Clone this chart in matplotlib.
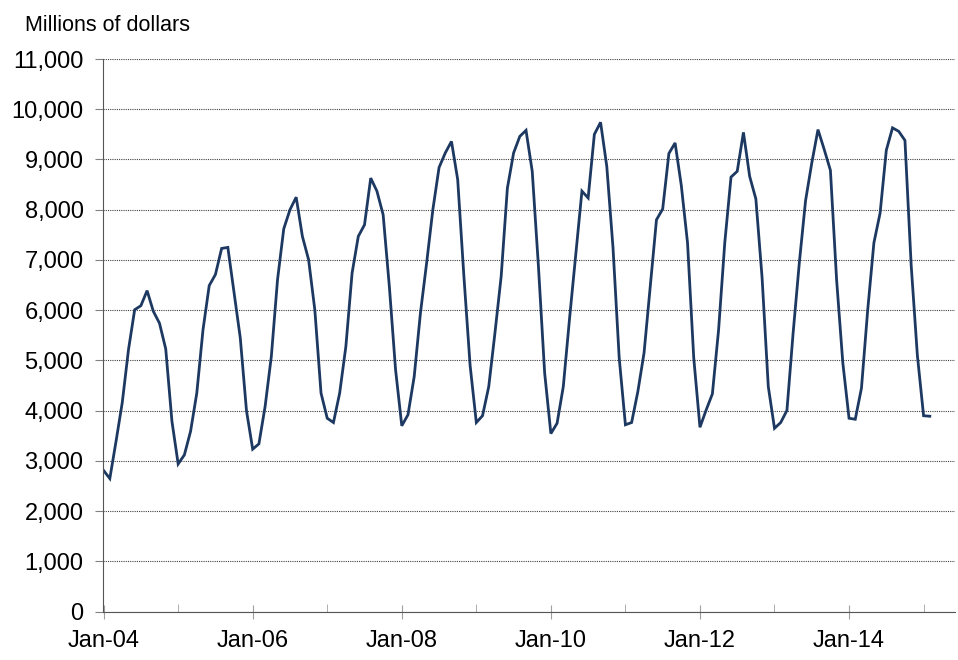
import matplotlib.pyplot as plt
from matplotlib.ticker import FuncFormatter, MultipleLocator
import numpy as np

plt.rcParams['font.family'] = ['Liberation Sans', 'DejaVu Sans']

# Monthly values, Jan-04 .. Feb-15 (millions of dollars)
y2004 = [2810, 2650, 3390, 4160, 5210, 6010, 6090, 6390, 5980, 5740, 5230, 3790]
y2005 = [2940, 3120, 3590, 4350, 5610, 6490, 6710, 7230, 7250, 6350, 5450, 4000]
y2006 = [3235, 3340, 4085, 5080, 6610, 7620, 8000, 8250, 7470, 7005, 6010, 4350]
y2007 = [3850, 3765, 4350, 5280, 6740, 7470, 7700, 8630, 8370, 7900, 6470, 4815]
y2008 = [3700, 3920, 4680, 5940, 6940, 8000, 8840, 9130, 9360, 8600, 6675, 4900]
y2009 = [3765, 3900, 4480, 5550, 6675, 8430, 9130, 9460, 9580, 8765, 6870, 4750]
y2010 = [3545, 3750, 4480, 5825, 7100, 8370, 8235, 9500, 9740, 8865, 7250, 5050]
y2011 = [3720, 3765, 4380, 5150, 6470, 7800, 8015, 9120, 9330, 8480, 7340, 5050]
y2012 = [3670, 4015, 4335, 5610, 7350, 8650, 8765, 9540, 8665, 8215, 6650, 4480]
y2013 = [3650, 3765, 4005, 5550, 6950, 8180, 8930, 9595, 9200, 8785, 6600, 4950]
y2014 = [3850, 3830, 4450, 6000, 7340, 7935, 9185, 9630, 9560, 9380, 6900, 5100]
y2015 = [3900, 3890]

values = (y2004 + y2005 + y2006 + y2007 + y2008 + y2009 + y2010 + y2011
          + y2012 + y2013 + y2014 + y2015)
years = ['04', '05', '06', '07', '08', '09', '10', '11', '12', '13', '14', '15']
tick_labels = ['Jan-' + y for y in years]

x = np.arange(len(values))

fig = plt.figure(figsize=(9.58, 6.6), dpi=100)
ax = fig.add_axes([0.1075, 0.0732, 0.889, 0.8374])

ax.plot(x, values, color='#1d3961', lw=2.0, solid_joinstyle='miter')

ax.set_ylim(0, 11000)
ax.set_xlim(-0.1, 137)
ax.yaxis.set_major_locator(MultipleLocator(1000))
ax.yaxis.set_major_formatter(FuncFormatter(lambda v, p: f'{int(v):,}'))
ax.grid(axis='y', color='#404040', ls=(0, (1, 1)), lw=0.8)
ax.set_axisbelow(True)

# every January gets a tick, every other one a label
ax.set_xticks(x[::24])
ax.set_xticklabels(tick_labels[::2])
ax.set_xticks(x[12::24], minor=True)
ax.tick_params(axis='x', which='major', direction='inout', length=10, color='#a0a0a0',
               labelsize=17, pad=8)
ax.tick_params(axis='x', which='minor', direction='in', length=6, color='#a0a0a0')
ax.tick_params(axis='y', direction='out', length=6, color='#808080', labelsize=17, pad=8)

for s in ['top', 'right']:
    ax.spines[s].set_visible(False)
ax.spines['left'].set_color('#555555')
ax.spines['bottom'].set_color('#555555')

fig.text(0.026, 0.962, 'Millions of dollars', fontsize=15.5, va='center')

fig.savefig('out.png')
